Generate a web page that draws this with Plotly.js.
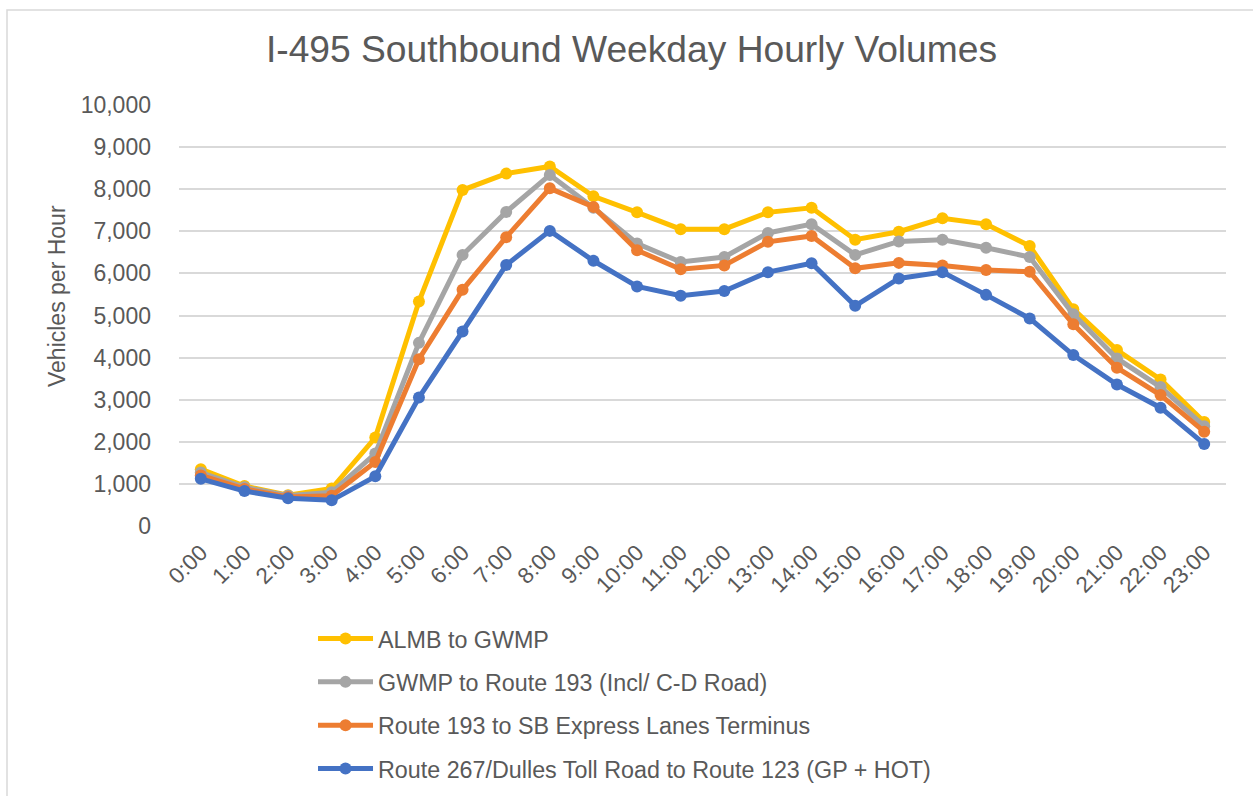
<!DOCTYPE html>
<html>
<head>
<meta charset="utf-8">
<script src="https://cdn.plot.ly/plotly-3.0.1.min.js"></script>
<style>
  html, body { margin: 0; padding: 0; background: #fff; }
  #chart { width: 1253px; height: 796px; }
</style>
</head>
<body>
<div id="chart"></div>
<script>
const hours = ["0:00","1:00","2:00","3:00","4:00","5:00","6:00","7:00","8:00","9:00","10:00","11:00",
               "12:00","13:00","14:00","15:00","16:00","17:00","18:00","19:00","20:00","21:00","22:00","23:00"];

const seriesNames = [
  "ALMB to GWMP",
  "GWMP to Route 193 (Incl/ C-D Road)",
  "Route 193 to SB Express Lanes Terminus",
  "Route 267/Dulles Toll Road to Route 123 (GP + HOT)"
];

const almbToGwmp = [1350, 950, 730, 890, 2100, 5330, 7980, 8370, 8540, 7830, 7450, 7050,
                    7050, 7450, 7560, 6800, 6990, 7310, 7170, 6650, 5150, 4180, 3480, 2470];
const gwmpToRoute193 = [1270, 920, 720, 800, 1720, 4350, 6440, 7460, 8340, 7560, 6710, 6270,
                        6390, 6960, 7170, 6440, 6760, 6800, 6610, 6390, 5030, 3980, 3300, 2370];
const route193ToSbExpress = [1200, 880, 690, 720, 1520, 3960, 5610, 6860, 8020, 7580, 6550, 6100,
                             6190, 6750, 6890, 6120, 6250, 6190, 6080, 6040, 4790, 3760, 3110, 2240];
const route267ToRoute123 = [1120, 830, 660, 610, 1180, 3050, 4620, 6200, 7010, 6300, 5690, 5470,
                            5580, 6030, 6240, 5230, 5880, 6030, 5490, 4930, 4060, 3360, 2810, 1950];

const yTicks = [0, 1000, 2000, 3000, 4000, 5000, 6000, 7000, 8000, 9000, 10000];
const yAxisTitle = "Vehicles per Hour";

const colors = ["#FFC000", "#A5A5A5", "#ED7D31", "#4472C4"];
const allSeries = [almbToGwmp, gwmpToRoute193, route193ToSbExpress, route267ToRoute123];

const traces = allSeries.map((vals, i) => ({
  type: "scatter",
  mode: "lines+markers",
  x: hours,
  y: vals,
  name: seriesNames[i],
  legendgroup: "g" + i,
  line: { color: colors[i], width: 5 },
  marker: { color: colors[i], size: 12 },
  hoverinfo: "x+y+name"
}));

const textColor = "#595959";
const fontFam = "'Liberation Sans', Arial, sans-serif";

const layout = {
  width: 1253,
  height: 796,
  margin: { l: 179, r: 27, t: 105, b: 270, autoexpand: false },
  paper_bgcolor: "#ffffff",
  plot_bgcolor: "#ffffff",
  font: { family: fontFam, color: textColor, size: 22 },
  title: {
    text: "I-495 Southbound Weekday Hourly Volumes",
    font: { family: fontFam, size: 37.2, color: textColor },
    x: 631.5 / 1253, xref: "container", xanchor: "center",
    y: 1 - 49 / 796, yref: "container", yanchor: "middle"
  },
  xaxis: {
    type: "category",
    range: [-0.5, 23.5],
    tickangle: -45,
    showgrid: false,
    zeroline: false,
    showline: false,
    ticks: "",
    ticklabelstandoff: 8,
    tickfont: { family: fontFam, size: 22.5, color: textColor },
    automargin: false,
    fixedrange: true
  },
  yaxis: {
    range: [0, 10000],
    tickvals: yTicks,
    tickformat: ",",
    showgrid: true,
    gridcolor: "#D9D9D9",
    gridwidth: 1.5,
    zeroline: false,
    showline: false,
    ticks: "",
    ticklabelstandoff: 27,
    tickfont: { family: fontFam, size: 23, color: textColor },
    automargin: false,
    fixedrange: true
  },
  annotations: [{
    text: yAxisTitle,
    xref: "paper", yref: "paper",
    x: (57 - 179) / 1047, y: (526 - 296) / 421,
    xanchor: "center", yanchor: "middle",
    textangle: -90,
    showarrow: false,
    font: { family: fontFam, size: 23, color: textColor }
  }],
  showlegend: true,
  legend: {
    orientation: "v",
    x: 0.128, xanchor: "left",
    y: -0.2160, yanchor: "top",
    font: { family: fontFam, size: 23.3, color: textColor },
    itemwidth: 55,
    tracegroupgap: 10,
    bgcolor: "rgba(0,0,0,0)"
  },
  shapes: [{
    type: "rect", xref: "paper", yref: "paper",
    x0: (7 - 179) / 1047, x1: (1265 - 179) / 1047,
    y0: (526 - 805) / 421, y1: (526 - 10) / 421,
    line: { color: "#D9D9D9", width: 1.5 },
    fillcolor: "rgba(0,0,0,0)",
    layer: "below"
  }]
};

Plotly.newPlot("chart", traces, layout, { displayModeBar: false, responsive: false });
</script>
</body>
</html>
